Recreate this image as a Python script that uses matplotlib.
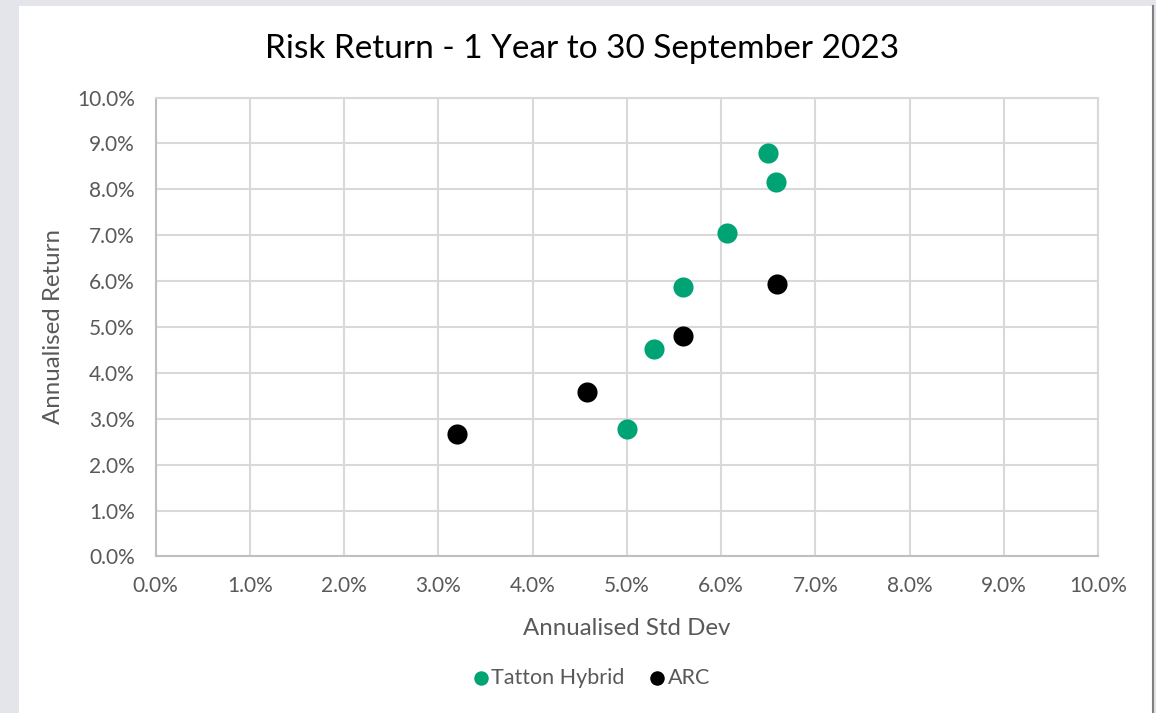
import matplotlib
matplotlib.use('Agg')
import matplotlib.pyplot as plt
from matplotlib.ticker import PercentFormatter, MultipleLocator
from matplotlib.patches import Rectangle
from matplotlib.lines import Line2D

plt.rcParams['font.family'] = ['Lato', 'DejaVu Sans']

# datos (%)
tatton_std = [6.50, 6.58, 6.06, 5.60, 5.29, 5.00]
tatton_ret = [8.80, 8.16, 7.05, 5.88, 4.51, 2.77]
arc_std = [6.59, 5.60, 4.58, 3.20]
arc_ret = [5.94, 4.80, 3.58, 2.67]

GREEN = '#00A374'
TEXT = '#595959'
GRID = '#D9D9D9'

fig = plt.figure(figsize=(11.56, 7.13), dpi=100, facecolor='#E4E5EA')
# fondo blanco del grafico y borde derecho
fig.patches.append(Rectangle((19/1156, 0), (1152-19)/1156, 1 - 6/713,
                             transform=fig.transFigure, facecolor='white',
                             edgecolor='none', zorder=-10))
fig.add_artist(Line2D([1153/1156, 1153/1156], [0, 1 - 6/713],
                      transform=fig.transFigure, color='#7F7F7F', lw=1.5))

ax = fig.add_axes([155.7/1156, 1 - 556.4/713, (1098 - 155.7)/1156, (556.4 - 97.5)/713])
ax.set_facecolor('white')

ax.scatter(tatton_std, tatton_ret, s=210, color=GREEN, linewidths=0, zorder=3, label='Tatton Hybrid')
ax.scatter(arc_std, arc_ret, s=210, color='black', linewidths=0, zorder=3, label='ARC')

ax.set_xlim(0, 10)
ax.set_ylim(0, 10)
ax.xaxis.set_major_locator(MultipleLocator(1))
ax.yaxis.set_major_locator(MultipleLocator(1))
ax.xaxis.set_major_formatter(PercentFormatter(decimals=1))
ax.yaxis.set_major_formatter(PercentFormatter(decimals=1))
ax.grid(True, color=GRID, lw=1.5, zorder=0)
ax.set_axisbelow(True)
for s in ax.spines.values():
    s.set_color(GRID)
    s.set_linewidth(1.5)
ax.spines['left'].set_color('#BFBFBF')
ax.spines['bottom'].set_color('#BFBFBF')
ax.tick_params(length=0, labelsize=15, colors=TEXT)
ax.tick_params(axis='x', pad=14)
ax.tick_params(axis='y', pad=15)

ax.set_xlabel('Annualised Std Dev', fontsize=17.3, color=TEXT, labelpad=16)
ax.set_ylabel('Annualised Return', fontsize=17.3, color=TEXT, labelpad=9)
fig.text(0.5035, 1 - 49/713, 'Risk Return - 1 Year to 30 September 2023',
         ha='center', va='center', fontsize=24, color='black')

fig.legend(loc='center', bbox_to_anchor=(590/1156, 1 - 678/713), ncol=2, frameon=False,
           fontsize=15.5, labelcolor=TEXT, handletextpad=0.0, columnspacing=1.0,
           markerscale=0.72, handlelength=1.0)

fig.savefig('out.png', dpi=100, facecolor=fig.get_facecolor())
